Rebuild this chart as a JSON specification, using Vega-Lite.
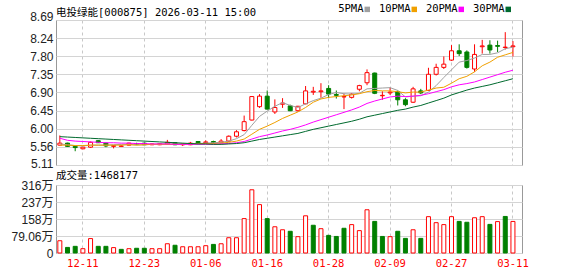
{
  "$schema": "https://vega.github.io/schema/vega-lite/v6.json",
  "background": "white",
  "padding": {"left": 10, "top": 4, "right": 0, "bottom": 0},
  "spacing": 0,
  "config": {
    "view": {"stroke": "#999999", "strokeWidth": 1},
    "axis": {"ticks": false, "domain": false, "gridColor": "#d4d4d4", "gridWidth": 1, "labelFont": "Liberation Sans, Noto Sans CJK SC", "labelFontSize": 12, "labelColor": "#222222", "labelPadding": 3, "labelOverlap": false},
    "title": {"font": "DejaVu Sans Mono, Noto Sans CJK SC", "fontSize": 10.5, "fontWeight": "normal", "color": "#000000", "anchor": "start", "frame": "group"}
  },
  "datasets": {
    "k": [
      {"d":"12-08","o":5.60,"h":5.84,"l":5.59,"c":5.65,"v":57,"vu":"u","5PMA":5.63,"10PMA":5.60,"20PMA":5.77,"30PMA":5.81},
      {"d":"12-09","o":5.65,"h":5.66,"l":5.56,"c":5.57,"v":26,"vu":"d","5PMA":5.61,"10PMA":5.60,"20PMA":5.72,"30PMA":5.80},
      {"d":"12-10","o":5.57,"h":5.58,"l":5.45,"c":5.54,"v":31,"vu":"d","5PMA":5.59,"10PMA":5.59,"20PMA":5.70,"30PMA":5.79},
      {"d":"12-11","o":5.51,"h":5.56,"l":5.50,"c":5.55,"v":20,"vu":"u","5PMA":5.58,"10PMA":5.59,"20PMA":5.69,"30PMA":5.78},
      {"d":"12-12","o":5.55,"h":5.69,"l":5.53,"c":5.67,"v":67,"vu":"u","5PMA":5.60,"10PMA":5.60,"20PMA":5.68,"30PMA":5.77},
      {"d":"12-15","o":5.71,"h":5.72,"l":5.66,"c":5.66,"v":31,"vu":"d","5PMA":5.60,"10PMA":5.60,"20PMA":5.67,"30PMA":5.76},
      {"d":"12-16","o":5.65,"h":5.66,"l":5.55,"c":5.58,"v":31,"vu":"d","5PMA":5.60,"10PMA":5.60,"20PMA":5.66,"30PMA":5.75},
      {"d":"12-17","o":5.57,"h":5.60,"l":5.52,"c":5.59,"v":25,"vu":"u","5PMA":5.61,"10PMA":5.60,"20PMA":5.66,"30PMA":5.74},
      {"d":"12-18","o":5.57,"h":5.60,"l":5.56,"c":5.58,"v":17,"vu":"d","5PMA":5.62,"10PMA":5.60,"20PMA":5.65,"30PMA":5.73},
      {"d":"12-19","o":5.60,"h":5.66,"l":5.59,"c":5.65,"v":20,"vu":"u","5PMA":5.62,"10PMA":5.61,"20PMA":5.65,"30PMA":5.72},
      {"d":"12-22","o":5.64,"h":5.66,"l":5.60,"c":5.62,"v":22,"vu":"d","5PMA":5.61,"10PMA":5.60,"20PMA":5.64,"30PMA":5.71},
      {"d":"12-23","o":5.65,"h":5.66,"l":5.60,"c":5.61,"v":22,"vu":"d","5PMA":5.61,"10PMA":5.61,"20PMA":5.64,"30PMA":5.70},
      {"d":"12-24","o":5.61,"h":5.64,"l":5.60,"c":5.63,"v":20,"vu":"u","5PMA":5.62,"10PMA":5.62,"20PMA":5.63,"30PMA":5.69},
      {"d":"12-25","o":5.61,"h":5.65,"l":5.60,"c":5.64,"v":20,"vu":"u","5PMA":5.63,"10PMA":5.62,"20PMA":5.63,"30PMA":5.68},
      {"d":"12-26","o":5.63,"h":5.73,"l":5.62,"c":5.67,"v":43,"vu":"u","5PMA":5.63,"10PMA":5.62,"20PMA":5.63,"30PMA":5.67},
      {"d":"12-29","o":5.66,"h":5.67,"l":5.60,"c":5.61,"v":36,"vu":"d","5PMA":5.63,"10PMA":5.62,"20PMA":5.62,"30PMA":5.66},
      {"d":"12-30","o":5.61,"h":5.64,"l":5.58,"c":5.63,"v":29,"vu":"u","5PMA":5.63,"10PMA":5.62,"20PMA":5.62,"30PMA":5.65},
      {"d":"12-31","o":5.61,"h":5.68,"l":5.60,"c":5.65,"v":29,"vu":"u","5PMA":5.64,"10PMA":5.63,"20PMA":5.62,"30PMA":5.64},
      {"d":"01-05","o":5.69,"h":5.70,"l":5.64,"c":5.66,"v":29,"vu":"u","5PMA":5.64,"10PMA":5.64,"20PMA":5.62,"30PMA":5.63},
      {"d":"01-06","o":5.66,"h":5.72,"l":5.65,"c":5.68,"v":34,"vu":"u","5PMA":5.65,"10PMA":5.64,"20PMA":5.62,"30PMA":5.63},
      {"d":"01-07","o":5.69,"h":5.71,"l":5.64,"c":5.66,"v":40,"vu":"d","5PMA":5.66,"10PMA":5.64,"20PMA":5.62,"30PMA":5.62},
      {"d":"01-08","o":5.66,"h":5.75,"l":5.65,"c":5.70,"v":43,"vu":"u","5PMA":5.67,"10PMA":5.65,"20PMA":5.63,"30PMA":5.62},
      {"d":"01-09","o":5.70,"h":5.84,"l":5.68,"c":5.82,"v":71,"vu":"u","5PMA":5.70,"10PMA":5.67,"20PMA":5.64,"30PMA":5.63},
      {"d":"01-12","o":5.82,"h":5.97,"l":5.79,"c":5.93,"v":71,"vu":"u","5PMA":5.76,"10PMA":5.70,"20PMA":5.66,"30PMA":5.64},
      {"d":"01-13","o":5.96,"h":6.33,"l":5.94,"c":6.18,"v":160,"vu":"u","5PMA":5.86,"10PMA":5.75,"20PMA":5.69,"30PMA":5.66},
      {"d":"01-14","o":6.22,"h":6.80,"l":6.21,"c":6.80,"v":294,"vu":"u","5PMA":6.09,"10PMA":5.87,"20PMA":5.75,"30PMA":5.70},
      {"d":"01-15","o":6.55,"h":6.86,"l":6.52,"c":6.81,"v":225,"vu":"u","5PMA":6.31,"10PMA":5.99,"20PMA":5.81,"30PMA":5.74},
      {"d":"01-16","o":6.81,"h":6.95,"l":6.48,"c":6.49,"v":160,"vu":"d","5PMA":6.44,"10PMA":6.07,"20PMA":5.85,"30PMA":5.77},
      {"d":"01-19","o":6.42,"h":6.73,"l":6.37,"c":6.53,"v":122,"vu":"u","5PMA":6.56,"10PMA":6.16,"20PMA":5.90,"30PMA":5.80},
      {"d":"01-20","o":6.61,"h":6.76,"l":6.52,"c":6.64,"v":108,"vu":"u","5PMA":6.65,"10PMA":6.26,"20PMA":5.95,"30PMA":5.83},
      {"d":"01-21","o":6.57,"h":6.60,"l":6.44,"c":6.45,"v":101,"vu":"d","5PMA":6.58,"10PMA":6.34,"20PMA":5.99,"30PMA":5.86},
      {"d":"01-22","o":6.45,"h":6.57,"l":6.43,"c":6.56,"v":76,"vu":"u","5PMA":6.53,"10PMA":6.42,"20PMA":6.04,"30PMA":5.89},
      {"d":"01-23","o":6.62,"h":7.06,"l":6.61,"c":6.94,"v":173,"vu":"u","5PMA":6.62,"10PMA":6.53,"20PMA":6.10,"30PMA":5.94},
      {"d":"01-26","o":6.91,"h":7.04,"l":6.84,"c":6.93,"v":129,"vu":"d","5PMA":6.70,"10PMA":6.66,"20PMA":6.17,"30PMA":5.99},
      {"d":"01-27","o":6.92,"h":7.13,"l":6.77,"c":6.94,"v":113,"vu":"u","5PMA":6.76,"10PMA":6.74,"20PMA":6.23,"30PMA":6.03},
      {"d":"01-28","o":7.00,"h":7.08,"l":6.76,"c":6.86,"v":82,"vu":"d","5PMA":6.85,"10PMA":6.78,"20PMA":6.29,"30PMA":6.07},
      {"d":"01-29","o":6.85,"h":6.95,"l":6.75,"c":6.83,"v":77,"vu":"d","5PMA":6.90,"10PMA":6.80,"20PMA":6.35,"30PMA":6.11},
      {"d":"01-30","o":6.79,"h":6.87,"l":6.49,"c":6.80,"v":115,"vu":"d","5PMA":6.87,"10PMA":6.82,"20PMA":6.41,"30PMA":6.15},
      {"d":"02-02","o":6.78,"h":6.88,"l":6.75,"c":6.86,"v":132,"vu":"u","5PMA":6.86,"10PMA":6.84,"20PMA":6.47,"30PMA":6.19},
      {"d":"02-03","o":6.98,"h":7.09,"l":6.93,"c":7.07,"v":104,"vu":"u","5PMA":6.88,"10PMA":6.87,"20PMA":6.54,"30PMA":6.24},
      {"d":"02-04","o":7.14,"h":7.47,"l":7.08,"c":7.39,"v":201,"vu":"u","5PMA":6.99,"10PMA":6.92,"20PMA":6.63,"30PMA":6.30},
      {"d":"02-05","o":7.38,"h":7.39,"l":6.86,"c":6.88,"v":147,"vu":"d","5PMA":7.00,"10PMA":6.95,"20PMA":6.69,"30PMA":6.34},
      {"d":"02-06","o":6.82,"h":6.93,"l":6.72,"c":6.83,"v":77,"vu":"d","5PMA":7.01,"10PMA":6.94,"20PMA":6.74,"30PMA":6.38},
      {"d":"02-09","o":6.89,"h":7.02,"l":6.84,"c":6.91,"v":76,"vu":"u","5PMA":7.02,"10PMA":6.94,"20PMA":6.79,"30PMA":6.42},
      {"d":"02-10","o":6.92,"h":6.95,"l":6.58,"c":6.72,"v":101,"vu":"d","5PMA":6.95,"10PMA":6.92,"20PMA":6.81,"30PMA":6.46},
      {"d":"02-11","o":6.72,"h":6.76,"l":6.56,"c":6.60,"v":68,"vu":"d","5PMA":6.79,"10PMA":6.89,"20PMA":6.80,"30PMA":6.49},
      {"d":"02-12","o":6.66,"h":7.04,"l":6.64,"c":6.99,"v":108,"vu":"u","5PMA":6.81,"10PMA":6.91,"20PMA":6.81,"30PMA":6.54},
      {"d":"02-13","o":6.94,"h":6.99,"l":6.86,"c":6.89,"v":68,"vu":"d","5PMA":6.82,"10PMA":6.91,"20PMA":6.83,"30PMA":6.58},
      {"d":"02-24","o":6.95,"h":7.51,"l":6.94,"c":7.35,"v":169,"vu":"u","5PMA":6.91,"10PMA":6.96,"20PMA":6.87,"30PMA":6.64},
      {"d":"02-25","o":7.35,"h":7.61,"l":7.32,"c":7.52,"v":141,"vu":"u","5PMA":7.07,"10PMA":7.01,"20PMA":6.92,"30PMA":6.70},
      {"d":"02-26","o":7.52,"h":7.79,"l":7.48,"c":7.60,"v":132,"vu":"u","5PMA":7.27,"10PMA":7.03,"20PMA":6.97,"30PMA":6.76},
      {"d":"02-27","o":7.70,"h":8.07,"l":7.68,"c":7.93,"v":169,"vu":"u","5PMA":7.46,"10PMA":7.13,"20PMA":7.04,"30PMA":6.84},
      {"d":"03-02","o":7.93,"h":8.09,"l":7.80,"c":7.86,"v":147,"vu":"d","5PMA":7.65,"10PMA":7.24,"20PMA":7.09,"30PMA":6.90},
      {"d":"03-03","o":7.90,"h":7.94,"l":7.49,"c":7.52,"v":143,"vu":"d","5PMA":7.69,"10PMA":7.30,"20PMA":7.12,"30PMA":6.96},
      {"d":"03-04","o":7.48,"h":8.09,"l":7.41,"c":7.84,"v":164,"vu":"u","5PMA":7.75,"10PMA":7.41,"20PMA":7.16,"30PMA":7.01},
      {"d":"03-05","o":8.03,"h":8.20,"l":7.86,"c":8.05,"v":169,"vu":"u","5PMA":7.84,"10PMA":7.56,"20PMA":7.22,"30PMA":7.05},
      {"d":"03-06","o":8.07,"h":8.19,"l":7.86,"c":7.95,"v":133,"vu":"d","5PMA":7.84,"10PMA":7.65,"20PMA":7.28,"30PMA":7.09},
      {"d":"03-09","o":8.06,"h":8.18,"l":7.90,"c":8.04,"v":146,"vu":"u","5PMA":7.88,"10PMA":7.77,"20PMA":7.34,"30PMA":7.14},
      {"d":"03-10","o":8.01,"h":8.39,"l":7.96,"c":8.02,"v":170,"vu":"d","5PMA":7.98,"10PMA":7.83,"20PMA":7.40,"30PMA":7.19},
      {"d":"03-11","o":8.03,"h":8.17,"l":7.79,"c":8.05,"v":146.82,"vu":"u","5PMA":8.02,"10PMA":7.89,"20PMA":7.45,"30PMA":7.24}
    ]
  },
  "vconcat": [
    {
      "width": 466,
      "height": 145,
      "title": {"text": "电投绿能[000875] 2026-03-11 15:00", "offset": -8, "frame": "group", "anchor": "start", "align": "left"},
      "data": {"name": "k"},
      "encoding": {
        "x": {
          "field": "d", "type": "ordinal", "sort": null,
          "scale": {"type": "band", "paddingInner": 0, "paddingOuter": 0.34, "align": 0},
          "axis": {"title": null, "labels": false, "values": ["12-11","12-23","01-06","01-16","01-28","02-09","02-27","03-11"], "grid": true, "gridDash": [3, 3], "gridColor": "#c8c8c8", "bandPosition": 0.5, "minExtent": 0, "maxExtent": 0, "labelPadding": 0}
        }
      },
      "layer": [
        {
          "mark": {"type": "rule", "strokeWidth": 1},
          "encoding": {
            "y": {
              "field": "l", "type": "quantitative",
              "scale": {"domain": [5.11, 8.69], "nice": false, "zero": false},
              "axis": {
                "title": null, "values": [5.11, 5.56, 6.0, 6.45, 6.9, 7.35, 7.8, 8.24, 8.69], "format": ".2f", "grid": true, "labelOverlap": false,
                "labelBaseline": {"condition": {"test": "datum.value > 8.6", "value": "alphabetic"}, "value": "middle"},
                "labelOffset": {"condition": {"test": "datum.value < 5.2", "value": -2}, "value": 0}
              }
            },
            "y2": {"field": "h"},
            "color": {"condition": {"test": "datum.c >= datum.o", "value": "#ff0000"}, "value": "#008000"}
          }
        },
        {
          "mark": {"type": "bar", "width": 4, "strokeWidth": 1},
          "encoding": {
            "y": {
              "field": "o", "type": "quantitative",
              "axis": {
                "title": null, "values": [5.11, 5.56, 6.0, 6.45, 6.9, 7.35, 7.8, 8.24, 8.69], "format": ".2f", "grid": true, "labelOverlap": false,
                "labelBaseline": {"condition": {"test": "datum.value > 8.6", "value": "alphabetic"}, "value": "middle"},
                "labelOffset": {"condition": {"test": "datum.value < 5.2", "value": -2}, "value": 0}
              }
            },
            "y2": {"field": "c"},
            "fill": {"condition": {"test": "datum.c >= datum.o", "value": "#ffffff"}, "value": "#008000"},
            "stroke": {"condition": {"test": "datum.c >= datum.o", "value": "#ff0000"}, "value": "#008000"}
          }
        },
        {
          "transform": [{"fold": ["5PMA", "10PMA", "20PMA", "30PMA"], "as": ["ma", "mv"]}],
          "mark": {"type": "line", "strokeWidth": 1},
          "encoding": {
            "y": {
              "field": "mv", "type": "quantitative",
              "axis": {
                "title": null, "values": [5.11, 5.56, 6.0, 6.45, 6.9, 7.35, 7.8, 8.24, 8.69], "format": ".2f", "grid": true, "labelOverlap": false,
                "labelBaseline": {"condition": {"test": "datum.value > 8.6", "value": "alphabetic"}, "value": "middle"},
                "labelOffset": {"condition": {"test": "datum.value < 5.2", "value": -2}, "value": 0}
              }
            },
            "color": {
              "field": "ma", "type": "nominal",
              "scale": {"domain": ["5PMA", "10PMA", "20PMA", "30PMA"], "range": ["#a0a0a0", "#f0a000", "#ff00ff", "#006a2e"]},
              "legend": {
                "orient": "none", "legendX": 276, "legendY": -16, "direction": "horizontal", "title": null,
                "labelFont": "DejaVu Sans Mono", "labelFontSize": 10.5, "labelColor": "#000000",
                "labelAlign": "right", "labelOffset": -9, "symbolOffset": 30, "symbolType": "square", "symbolSize": 30,
                "symbolStrokeWidth": 0, "columnPadding": 8,
                "encode": {"symbols": {"update": {"fill": {"signal": "datum.value == '5PMA' ? '#a0a0a0' : datum.value == '10PMA' ? '#f0a000' : datum.value == '20PMA' ? '#ff00ff' : '#006a2e'"}}}}
              }
            }
          }
        }
      ]
    },
    {
      "width": 466,
      "height": 68,
      "title": {"text": "成交量:1468177", "offset": -2},
      "data": {"name": "k"},
      "mark": {"type": "bar", "width": 4, "strokeWidth": 1},
      "encoding": {
        "x": {
          "field": "d", "type": "ordinal", "sort": null,
          "scale": {"type": "band", "paddingInner": 0, "paddingOuter": 0.34, "align": 0},
          "axis": {"title": null, "values": ["12-11","12-23","01-06","01-16","01-28","02-09","02-27","03-11"], "grid": true, "gridDash": [3, 3], "gridColor": "#c8c8c8", "bandPosition": 0.5, "labelAngle": 0, "labelColor": "#ff0000", "labelFont": "DejaVu Sans Mono", "labelFontSize": 10.5, "labelPadding": 5}
        },
        "y": {
          "field": "v", "type": "quantitative",
          "scale": {"domain": [0, 316.24], "nice": false},
          "axis": {"title": null, "values": [0, 79.06, 158.12, 237.18, 316.24], "grid": true, "labelExpr": "datum.value == 0 ? '0' : (datum.value < 100 ? format(datum.value, '.2f') : format(datum.value, '.0f')) + '万'"}
        },
        "fill": {"condition": {"test": "datum.vu == 'u'", "value": "#ffffff"}, "value": "#008000"},
        "stroke": {"condition": {"test": "datum.vu == 'u'", "value": "#ff0000"}, "value": "#008000"}
      }
    }
  ]
}
